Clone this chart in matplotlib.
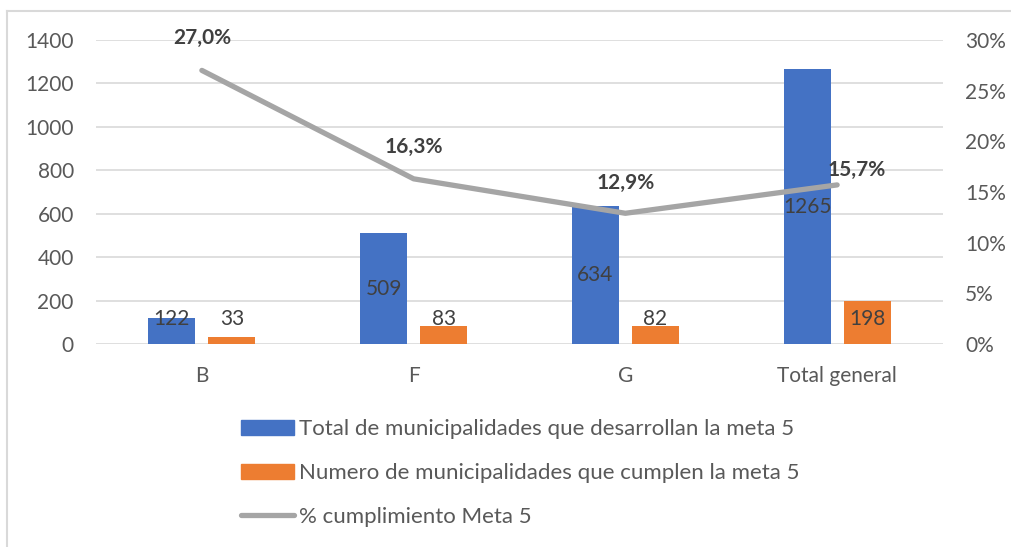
import matplotlib.pyplot as plt
from matplotlib.lines import Line2D
from matplotlib.patches import Patch
import numpy as np

plt.rcParams['font.family'] = ['Lato', 'DejaVu Sans']

# datos por grupo
categorias = ['B', 'F', 'G', 'Total general']
total_desarrollan = [122, 509, 634, 1265]
total_cumplen = [33, 83, 82, 198]
pct_cumplimiento = [27.0, 16.3, 12.9, 15.7]

etiqueta_total = 'Total de municipalidades que desarrollan la meta 5'
etiqueta_cumplen = 'Numero de municipalidades que cumplen la meta 5'
etiqueta_pct = '% cumplimiento Meta 5'

azul = '#4472C4'
naranja = '#ED7D31'
gris = '#A5A5A5'
texto = '#595959'
texto_osc = '#404040'
fs = 15

fig = plt.figure(figsize=(10.12, 5.47), dpi=100)
ax = fig.add_axes([96 / 1012, 203 / 547, 847 / 1012, 304 / 547])
ax2 = ax.twinx()

x = np.arange(len(categorias))
ancho = 0.222
desp = 0.142

b1 = ax.bar(x - desp, total_desarrollan, ancho, color=azul, zorder=2)
b2 = ax.bar(x + desp, total_cumplen, ancho, color=naranja, zorder=2)

ax.set_xlim(-0.5, len(categorias) - 0.5)
ax.set_ylim(0, 1400)
ax.set_yticks(range(0, 1401, 200))
ax.set_xticks(x)
ax.set_xticklabels(categorias)
ax.grid(axis='y', color='#D9D9D9', linewidth=1.2, zorder=0)
ax.set_axisbelow(True)
ax.tick_params(axis='y', length=0, pad=16, labelsize=fs, labelcolor=texto)
ax.tick_params(axis='x', length=0, pad=16, labelsize=fs, labelcolor=texto)

# etiquetas de valor en el centro de las barras (con minimo para barras cortas)
for barras in (b1, b2):
    for r in barras:
        v = r.get_height()
        ax.text(r.get_x() + r.get_width() / 2, max(v / 2, 115), str(int(v)),
                ha='center', va='center', fontsize=fs, color=texto_osc, zorder=3)

ax2.plot(x, np.array(pct_cumplimiento) / 100, color=gris, linewidth=3.8,
         solid_capstyle='round', zorder=4)
ax2.set_ylim(0, 0.30)
ax2.set_yticks(np.arange(0, 0.301, 0.05))
ax2.set_yticklabels([f'{int(round(t * 100))}%' for t in np.arange(0, 0.301, 0.05)])
ax2.tick_params(axis='y', length=0, pad=16, labelsize=fs, labelcolor=texto)

offsets = [(0, 23), (0, 23), (0, 22), (14, 11)]
for xi, p, off in zip(x, pct_cumplimiento, offsets):
    ax2.annotate(f'{p:.1f}%'.replace('.', ','), (xi, p / 100), xytext=off,
                 textcoords='offset points', ha='center', va='center',
                 fontsize=fs, fontweight='bold', color=texto_osc)

for a in (ax, ax2):
    for s in a.spines.values():
        s.set_visible(False)

handles = [Patch(color=azul), Patch(color=naranja),
           Line2D([0], [0], color=gris, linewidth=3.8, solid_capstyle='round')]
fig.legend(handles, [etiqueta_total, etiqueta_cumplen, etiqueta_pct],
           loc='upper left', bbox_to_anchor=(230 / 1012, 1 - 408 / 547),
           frameon=False, fontsize=16, labelcolor=texto, handlelength=2.4,
           handleheight=0.68, handletextpad=0.2, labelspacing=1.08, borderpad=0)

# borde del grafico
fig.add_artist(Line2D([7 / 1012, 7 / 1012], [0, 1 - 11 / 547], color='#D9D9D9', linewidth=1.5))
fig.add_artist(Line2D([7 / 1012, 1], [1 - 11 / 547, 1 - 11 / 547], color='#D9D9D9', linewidth=1.5))

fig.savefig('out.png', dpi=100)
